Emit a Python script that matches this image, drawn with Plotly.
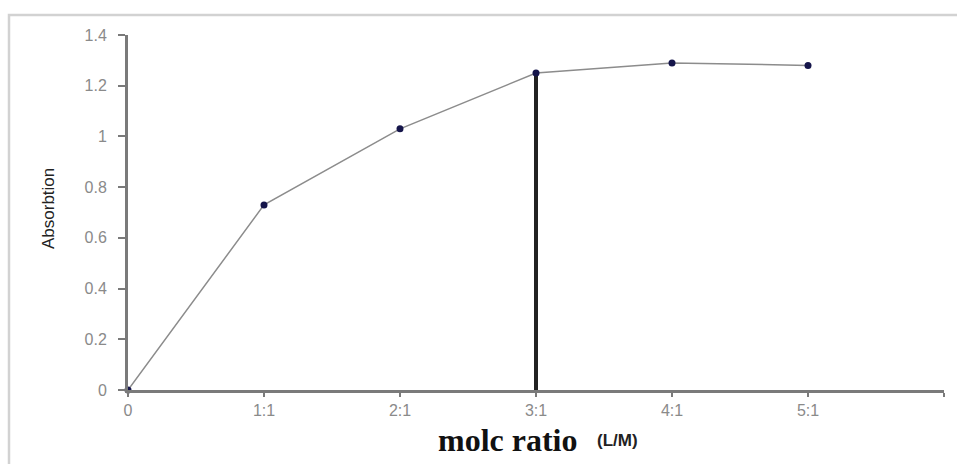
import plotly.graph_objects as go

categories = ["0", "1:1", "2:1", "3:1", "4:1", "5:1", ""]
absorption = [0.0, 0.73, 1.03, 1.25, 1.29, 1.28]
marker_ratio = "3:1"
y_ticks = [0, 0.2, 0.4, 0.6, 0.8, 1.0, 1.2, 1.4]
y_tick_labels = ["0", "0.2", "0.4", "0.6", "0.8", "1", "1.2", "1.4"]

W, H = 957, 464
L, R, T, B = 128, 13, 35, 74
pw, ph = W - L - R, H - T - B

def px_x(p):
    return (p - L) / pw

def px_y(p):
    return (H - B - p) / ph

xs = list(range(len(absorption)))
mi = categories.index(marker_ratio)

fig = go.Figure()
fig.add_trace(go.Scatter(
    x=[mi, mi], y=[0, absorption[mi]], mode="lines",
    line=dict(color="#222222", width=4), hoverinfo="skip", showlegend=False,
    cliponaxis=False))
fig.add_trace(go.Scatter(
    x=xs, y=absorption, mode="lines+markers",
    line=dict(color="#8c8c8c", width=1.5),
    marker=dict(color="#15154a", size=7),
    showlegend=False, cliponaxis=False))

fig.update_layout(
    width=W, height=H,
    margin=dict(l=L, r=R, t=T, b=B, pad=0),
    paper_bgcolor="white", plot_bgcolor="white",
    font=dict(family="Liberation Sans, Arial, sans-serif", color="#8a8a8a", size=16),
    xaxis=dict(
        range=[0, len(categories) - 1],
        tickvals=list(range(len(categories))), ticktext=categories,
        showgrid=False, zeroline=False, showline=True,
        linecolor="#7a7a7a", linewidth=3,
        ticks="outside", ticklen=4, tickwidth=2, tickcolor="#7a7a7a",
        tickfont=dict(size=16, color="#8a8a8a"),
    ),
    yaxis=dict(
        range=[0, 1.4], tickvals=y_ticks, ticktext=y_tick_labels,
        showgrid=False, zeroline=False, showline=True,
        linecolor="#7a7a7a", linewidth=3,
        ticks="outside", ticklen=7, tickwidth=1.5, tickcolor="#7a7a7a",
        ticklabelstandoff=8,
        tickfont=dict(size=16, color="#8a8a8a"),
    ),
)

# frame around chart
fig.add_shape(type="path", xref="paper", yref="paper",
              path=f"M {px_x(9)} {px_y(470)} L {px_x(9)} {px_y(15)} L {px_x(970)} {px_y(15)}",
              line=dict(color="#d2d2d2", width=2.5))

fig.add_annotation(xref="paper", yref="paper", x=px_x(508), y=px_y(440),
                   text="<b>molc ratio</b>", showarrow=False,
                   xanchor="center", yanchor="middle",
                   font=dict(family="Liberation Serif, Times New Roman, serif", size=32, color="#111111"))
fig.add_annotation(xref="paper", yref="paper", x=px_x(595), y=px_y(440),
                   text="<b>(L/M)</b>", showarrow=False,
                   xanchor="left", yanchor="middle",
                   font=dict(family="Liberation Sans, Arial, sans-serif", size=17, color="#222222"))
fig.add_annotation(xref="paper", yref="paper", x=px_x(48), y=px_y(209),
                   text="Absorbtion", showarrow=False, textangle=-90,
                   xanchor="center", yanchor="middle",
                   font=dict(family="Liberation Sans, Arial, sans-serif", size=17, color="#222222"))

fig.write_html("out.html", config={"displayModeBar": False},
               post_script="document.body.style.margin='0';document.body.style.overflow='hidden';")
